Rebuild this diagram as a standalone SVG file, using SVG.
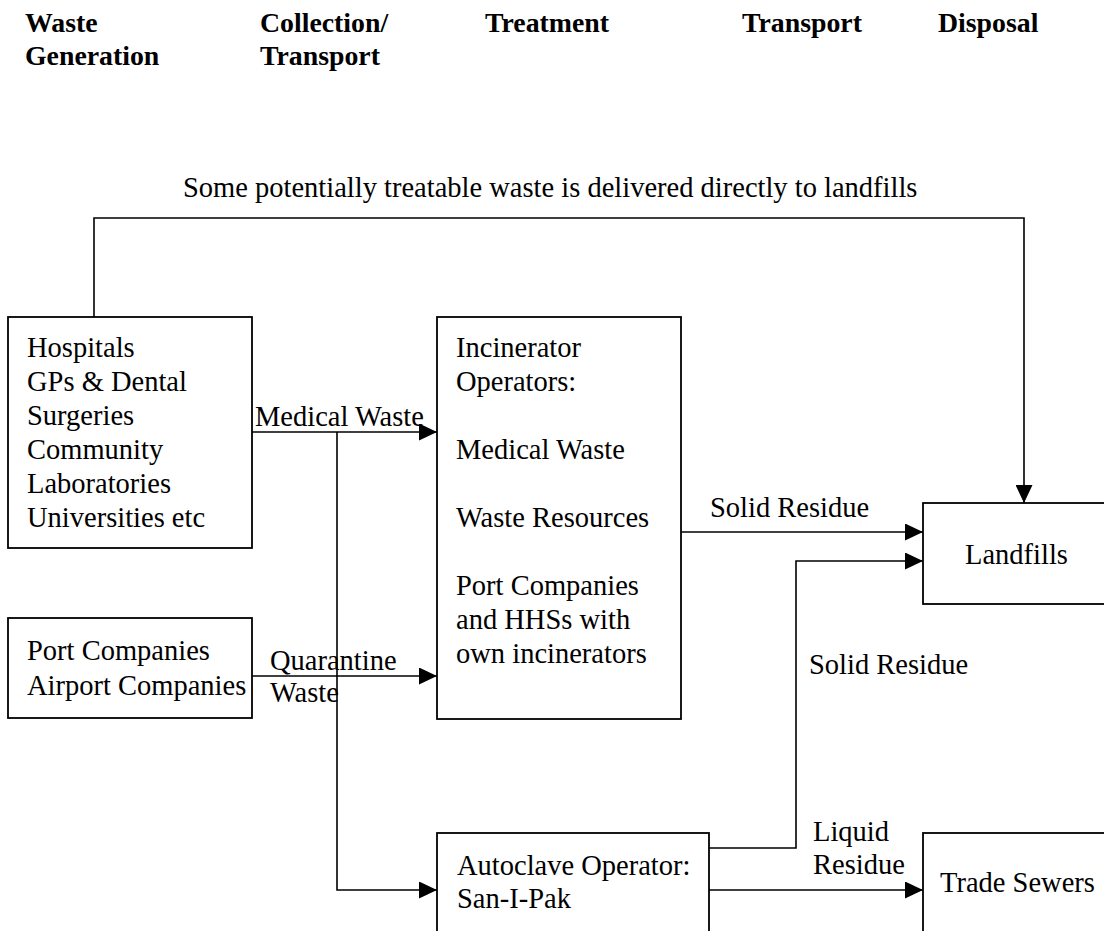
<svg xmlns="http://www.w3.org/2000/svg" width="1104" height="931" viewBox="0 0 1104 931" font-family="'Liberation Serif', 'Times New Roman', Times, 'DejaVu Serif', serif">
<style>
text{font-family:'Liberation Serif','Times New Roman',Times,'DejaVu Serif',serif;font-size:28.5px;fill:#000}
.h{font-weight:bold;font-size:27.8px}
.box{fill:#fff;stroke:#000;stroke-width:1.8}
.ln{fill:none;stroke:#000;stroke-width:1.6}
</style>
<defs>
<marker id="ah" markerUnits="userSpaceOnUse" markerWidth="18" markerHeight="17" refX="18" refY="8.5" orient="auto">
<path d="M0,0 L18,8.5 L0,17 Z" fill="#000"/>
</marker>
</defs>
<rect width="1104" height="931" fill="#fff"/>
<g id="headers">
<text class="h" x="25" y="32">Waste</text>
<text class="h" x="25" y="65">Generation</text>
<text class="h" x="260" y="32">Collection/</text>
<text class="h" x="260" y="65">Transport</text>
<text class="h" x="485" y="32">Treatment</text>
<text class="h" x="742" y="32">Transport</text>
<text class="h" x="938" y="32">Disposal</text>
</g>
<g id="connectors">
<polyline class="ln" points="94,317 94,218 1024,218 1024,503" marker-end="url(#ah)"/>
<line class="ln" x1="252" y1="432" x2="437" y2="432" marker-end="url(#ah)"/>
<polyline class="ln" points="337,432 337,890 437,890" marker-end="url(#ah)"/>
<line class="ln" x1="252" y1="676" x2="437" y2="676" marker-end="url(#ah)"/>
<line class="ln" x1="681" y1="532" x2="923" y2="532" marker-end="url(#ah)"/>
<polyline class="ln" points="709,848 796,848 796,561 923,561" marker-end="url(#ah)"/>
<line class="ln" x1="709" y1="890" x2="923" y2="890" marker-end="url(#ah)"/>
<text x="183" y="197">Some potentially treatable waste is delivered directly to landfills</text>
<text x="255" y="426">Medical Waste</text>
<text x="270" y="670">Quarantine</text>
<text x="270" y="702">Waste</text>
<text x="710" y="517">Solid Residue</text>
<text x="809" y="674">Solid Residue</text>
<text x="813" y="841">Liquid</text>
<text x="813" y="874">Residue</text>
</g>
<g id="generators">
<rect class="box" x="8" y="317" width="244" height="231"/>
<text x="27" y="357">Hospitals</text>
<text x="27" y="391">GPs &amp; Dental</text>
<text x="27" y="425">Surgeries</text>
<text x="27" y="459">Community</text>
<text x="27" y="493">Laboratories</text>
<text x="27" y="527">Universities etc</text>
</g>
<g id="ports">
<rect class="box" x="8" y="618" width="244" height="100"/>
<text x="27" y="660">Port Companies</text>
<text x="27" y="695">Airport Companies</text>
</g>
<g id="incinerator">
<rect class="box" x="437" y="317" width="244" height="402"/>
<text x="456" y="357">Incinerator</text>
<text x="456" y="391">Operators:</text>
<text x="456" y="459">Medical Waste</text>
<text x="456" y="527">Waste Resources</text>
<text x="456" y="595">Port Companies</text>
<text x="456" y="629">and HHSs with</text>
<text x="456" y="663">own incinerators</text>
</g>
<g id="autoclave">
<rect class="box" x="437" y="833" width="272" height="110"/>
<text x="457" y="875">Autoclave Operator:</text>
<text x="457" y="908">San-I-Pak</text>
</g>
<g id="landfills">
<rect class="box" x="923" y="503" width="190" height="101"/>
<text x="965" y="564">Landfills</text>
</g>
<g id="sewers">
<rect class="box" x="923" y="833" width="190" height="110"/>
<text x="940" y="892">Trade Sewers</text>
</g>
</svg>
